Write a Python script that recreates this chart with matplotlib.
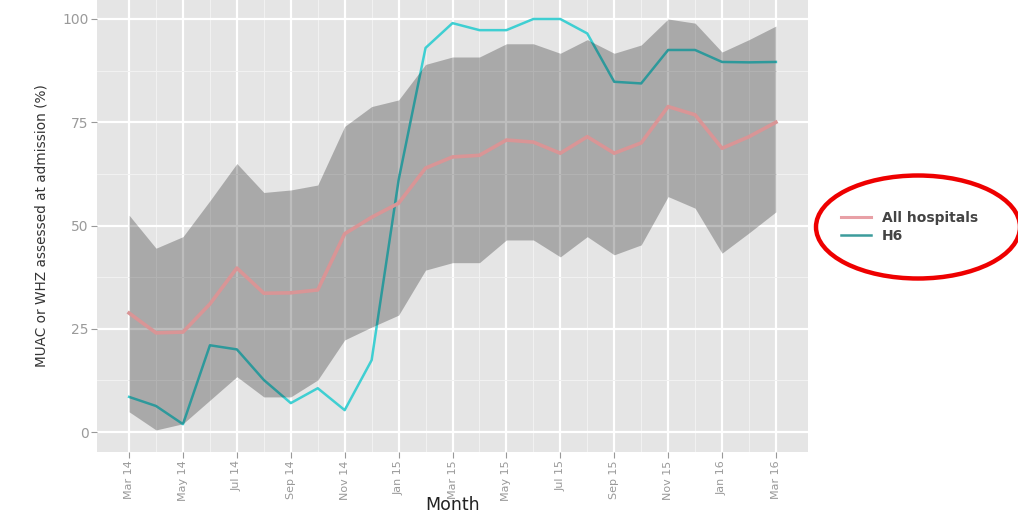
import matplotlib
matplotlib.use('Agg')
import matplotlib.pyplot as plt
from matplotlib.patches import Ellipse
from matplotlib.lines import Line2D

# month index 0 = Mar 14 ... 24 = Mar 16
months = list(range(25))
tick_pos = list(range(0, 25, 2))
tick_labels = ['Mar 14', 'May 14', 'Jul 14', 'Sep 14', 'Nov 14', 'Jan 15', 'Mar 15',
               'May 15', 'Jul 15', 'Sep 15', 'Nov 15', 'Jan 16', 'Mar 16']

all_hosp = [28.8, 24.0, 24.2, 31.0, 39.7, 33.6, 33.7, 34.4, 48.0, 52.0, 55.4, 63.9, 66.6,
            67.0, 70.7, 70.2, 67.5, 71.5, 67.5, 70.0, 78.8, 76.8, 68.7, 71.5, 75.0]
h6 = [8.5, 6.3, 1.9, 21.0, 20.0, 12.6, 7.0, 10.6, 5.3, 17.4, 61.0, 93.0, 99.0,
      97.3, 97.3, 100.0, 100.0, 96.5, 84.8, 84.4, 92.5, 92.5, 89.6, 89.5, 89.6]
band_hi = [52.5, 44.5, 47.3, 56.0, 65.0, 58.0, 58.6, 59.8, 74.0, 78.8, 80.4, 89.0, 90.8,
           90.8, 94.0, 94.0, 91.7, 95.0, 91.7, 93.7, 100.0, 99.0, 92.0, 95.0, 98.3]
band_lo = [4.9, 0.5, 2.0, 7.7, 13.4, 8.5, 8.5, 12.6, 22.3, 25.4, 28.3, 39.2, 41.0,
           41.0, 46.5, 46.5, 42.4, 47.3, 42.9, 45.3, 57.0, 54.2, 43.3, 48.2, 53.3]


def main():
    fig = plt.figure(figsize=(10.18, 5.16), dpi=100)
    ax = fig.add_axes([97 / 1018, 1 - 452 / 516, 711 / 1018, 452 / 516])
    ax.set_facecolor('#E5E5E5')
    for s in ax.spines.values():
        s.set_visible(False)

    # grid like ggplot
    ax.set_xticks(tick_pos)
    ax.set_xticks(range(1, 25, 2), minor=True)
    ax.set_yticks([0, 25, 50, 75, 100])
    ax.set_yticks([12.5, 37.5, 62.5, 87.5], minor=True)
    ax.grid(which='major', color='white', lw=1.6, zorder=0)
    ax.grid(which='minor', color='#F2F2F2', lw=0.7, zorder=0)
    ax.set_axisbelow(True)

    ax.plot(months, h6, color='#3FCFD2', lw=1.8, zorder=2)
    ax.fill_between(months, band_lo, band_hi, color='black', alpha=0.26, lw=0, zorder=3)
    ax.plot(months, all_hosp, color='#D99596', lw=2.6, zorder=4)

    ax.set_xlim(-1.19, 25.19)
    ax.set_ylim(-4.84, 104.6)

    ax.set_xticklabels(tick_labels, rotation=90, fontsize=8, color='#999999')
    ax.set_yticklabels(['0', '25', '50', '75', '100'], fontsize=10, color='#9A9A9A')
    ax.tick_params(which='major', length=4, color='#999999', pad=2)
    ax.tick_params(which='minor', length=0)

    ax.set_xlabel('Month', fontsize=12.5, color='#222222', va='center')
    ax.xaxis.set_label_coords(0.5, -0.118)
    ax.set_ylabel('MUAC or WHZ assessed at admission (%)', fontsize=9.8,
                  color='#333333', labelpad=10)

    handles = [Line2D([], [], color='#E8A0A6', lw=2.2),
               Line2D([], [], color='#3C9C9C', lw=1.8)]
    fig.legend(handles, ['All hospitals', 'H6'], loc='center left',
               bbox_to_anchor=(828 / 1018, 1 - 227 / 516), frameon=False,
               prop={'size': 10, 'weight': 'bold'}, handlelength=2.2,
               labelspacing=0.3, labelcolor='#444444')

    ell = Ellipse((918 / 1018, 1 - 227 / 516), 204 / 1018, 103 / 516,
                  transform=fig.transFigure, fill=False, ec='#EE0000', lw=3.2)
    fig.add_artist(ell)

    fig.savefig('out.png', dpi=100)


if __name__ == '__main__':
    main()
